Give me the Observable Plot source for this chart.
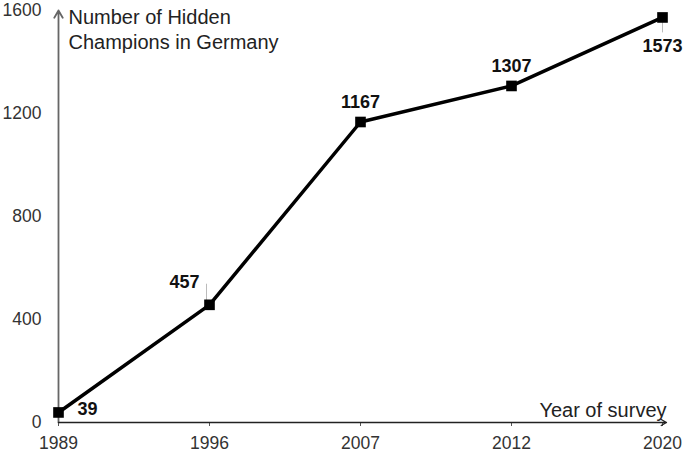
<!DOCTYPE html>
<html><head><meta charset="utf-8">
<script src="https://cdn.jsdelivr.net/npm/d3@7"></script>
<script src="https://cdn.jsdelivr.net/npm/@observablehq/plot@0.6"></script>
<style>body{margin:0;background:#fff;} svg{font-family:"Liberation Sans",Arial,sans-serif;}</style>
</head><body><div id="chart"></div>
<script>
const years = ["1989", "1996", "2007", "2012", "2020"];
const counts = [39, 457, 1167, 1307, 1573];
const yTicks = [0, 400, 800, 1200, 1600];
const yTitle = "Number of Hidden\nChampions in Germany";
const xTitle = "Year of survey";

const data = years.map((y, i) => ({year: y, count: counts[i]}));
const F = "Liberation Sans, Arial, sans-serif";

const chart = Plot.plot({
  width: 685, height: 453,
  marginLeft: 58, marginRight: 23, marginTop: 10, marginBottom: 31,
  style: {fontFamily: F, background: "#fff"},
  x: {type: "point", domain: years, padding: 0, label: null},
  y: {domain: [0, 1600], label: null},
  marks: [
    Plot.gridY(yTicks, {stroke: "#e4e4e4", strokeOpacity: 1, x1: "1989", x2: "2020", insetRight: -23}),
    Plot.axisY(yTicks, {tickSize: 0, tickPadding: 17, fontSize: 17.5, fill: "#333", label: null, tickFormat: d => String(d)}),
    Plot.axisX({tickSize: 4, tickPadding: 10, fontSize: 17.5, fill: "#333", stroke: "#555", label: null}),
    Plot.arrow([0], {x1: () => "1989", x2: () => "1989", y1: 0, y2: 1600, stroke: "#666", strokeWidth: 1.8, headLength: 7, inset: 0}),
    Plot.arrow([0], {x1: () => "1989", x2: () => "2020", y1: 0, y2: 0, stroke: "#222", strokeWidth: 1.3, headLength: 7, inset: 0, insetEnd: -4}),
    Plot.text([yTitle], {frameAnchor: "top-left", dx: 10, dy: -4, text: d => d, fontSize: 20, fill: "#222", lineHeight: 1.25, textAnchor: "start"}),
    Plot.text([xTitle], {frameAnchor: "bottom-right", dx: 4, dy: -6, text: d => d, fontSize: 20, fill: "#222", textAnchor: "end"}),
    Plot.ruleX(data.filter(d => d.year === "2020"), {x: "year", y1: "count", y2: d => d.count - 60, stroke: "#bbb", strokeWidth: 1}),
    Plot.ruleX(data.filter(d => d.year === "1996"), {x: "year", y1: "count", y2: d => d.count + 80, dx: -3, stroke: "#bbb", strokeWidth: 1}),
    Plot.line(data, {x: "year", y: "count", stroke: "#000", strokeWidth: 3.5}),
    Plot.dot(data, {x: "year", y: "count", symbol: "square", r: 6, fill: "#000"}),
    Plot.text(data.filter(d => d.year === "1989"), {x: "year", y: "count", text: d => String(d.count), dx: 19, dy: -3, textAnchor: "start", fontSize: 18, fontWeight: "bold", fill: "#111"}),
    Plot.text(data.filter(d => d.year === "1996"), {x: "year", y: "count", text: d => String(d.count), dx: -10, dy: -23, textAnchor: "end", fontSize: 18, fontWeight: "bold", fill: "#111"}),
    Plot.text(data.filter(d => d.year === "2007" || d.year === "2012"), {x: "year", y: "count", text: d => String(d.count), dy: -20, fontSize: 18, fontWeight: "bold", fill: "#111"}),
    Plot.text(data.filter(d => d.year === "2020"), {x: "year", y: "count", text: d => String(d.count), dy: 29, fontSize: 18, fontWeight: "bold", fill: "#111"})
  ]
});
document.getElementById("chart").appendChild(chart);
</script></body></html>
